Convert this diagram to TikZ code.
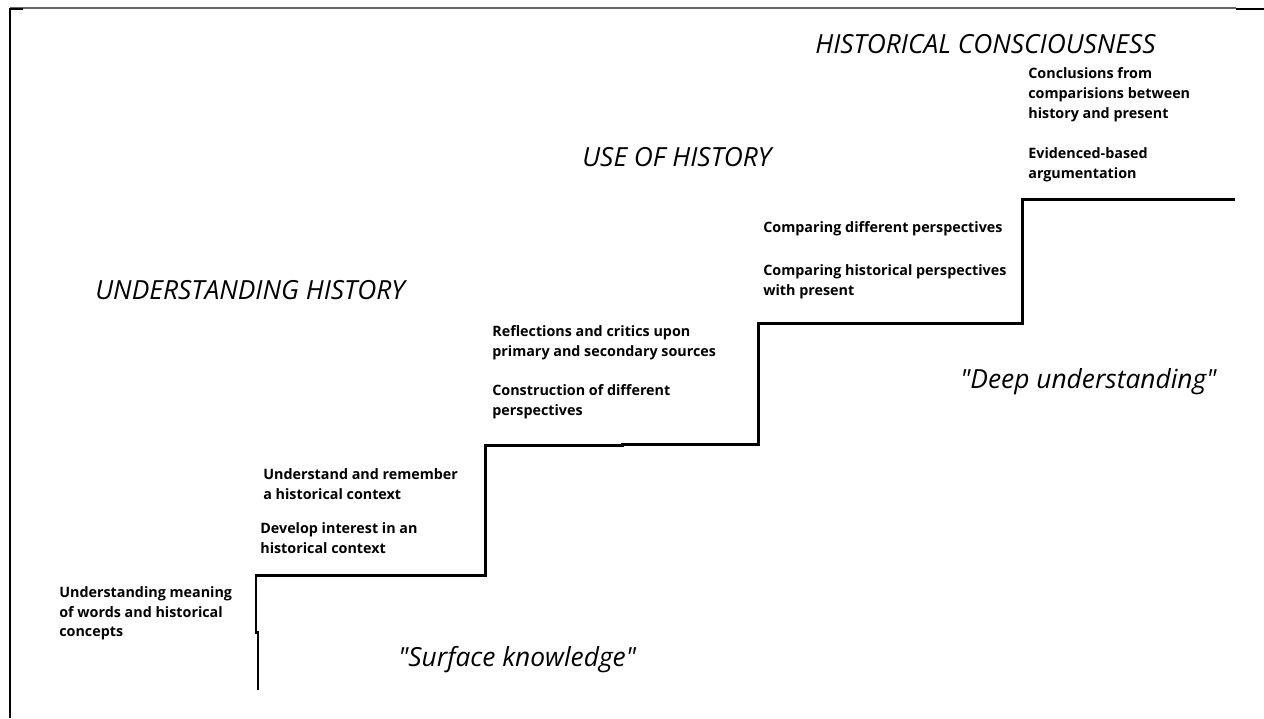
\documentclass[tikz,border=0pt]{standalone}
\usepackage{fontspec}
\setmainfont{Open Sans}
\begin{document}
\begin{tikzpicture}[x=0.02cm,y=-0.02cm,
  stepline/.style={line width=1.7pt,line join=miter,black},
  frameline/.style={line width=1.4pt,black},
  heading/.style={anchor=west,inner sep=0pt,font=\fontsize{15}{18}\selectfont\itshape},
  quote/.style={anchor=west,inner sep=0pt,font=\fontsize{15}{18}\selectfont\itshape},
  item/.style={anchor=north west,inner sep=0pt,align=left,font=\fontsize{8.15}{11.3}\selectfont\bfseries},
]
\useasboundingbox (0,0) rectangle (1264,718);
% frame
\draw[gray!80!black,line width=0.6pt] (10,8) -- (1236,8);
\draw[line width=1.2pt] (1236,9) -- (1264,9);
\draw[frameline] (10,718) -- (10,9) -- (23,9);
% staircase
\draw[stepline] (258,690) -- (258,632) -- (256,632) -- (256,575) -- (485,575)
  -- (485,445) -- (622,445) -- (622,444) -- (758,444) -- (758,323) -- (1022,323)
  -- (1022,199) -- (1235,199);
% headings
\node[heading] (hc) at (815,44) {HISTORICAL CONSCIOUSNESS};
\node[heading] (uo) at (582,157) {USE OF HISTORY};
\node[heading] (uh) at (95,290) {UNDERSTANDING HISTORY};
\node[quote] (du) at (960,382) {\textquotedbl Deep understanding\textquotedbl};
\node[quote] (sk) at (398,660) {\textquotedbl Surface knowledge\textquotedbl};
% items
\node[item] (i1) at (59,586) {Understanding meaning\\of words and historical\\concepts};
\node[item] (i2) at (263,468) {Understand and remember\\a historical context};
\node[item] (i3) at (260,522) {Develop interest in an\\historical context};
\node[item] (i4) at (492,325) {Reflections and critics upon\\primary and secondary sources};
\node[item] (i5) at (492,384) {Construction of different\\perspectives};
\node[item] (i6) at (763,221) {Comparing different perspectives};
\node[item] (i7) at (763,264) {Comparing historical perspectives\\with present};
\node[item] (i8) at (1028,67) {Conclusions from\\comparisions between\\history and present};
\node[item] (i9) at (1028,147) {Evidenced-based\\argumentation};
\end{tikzpicture}
\end{document}
